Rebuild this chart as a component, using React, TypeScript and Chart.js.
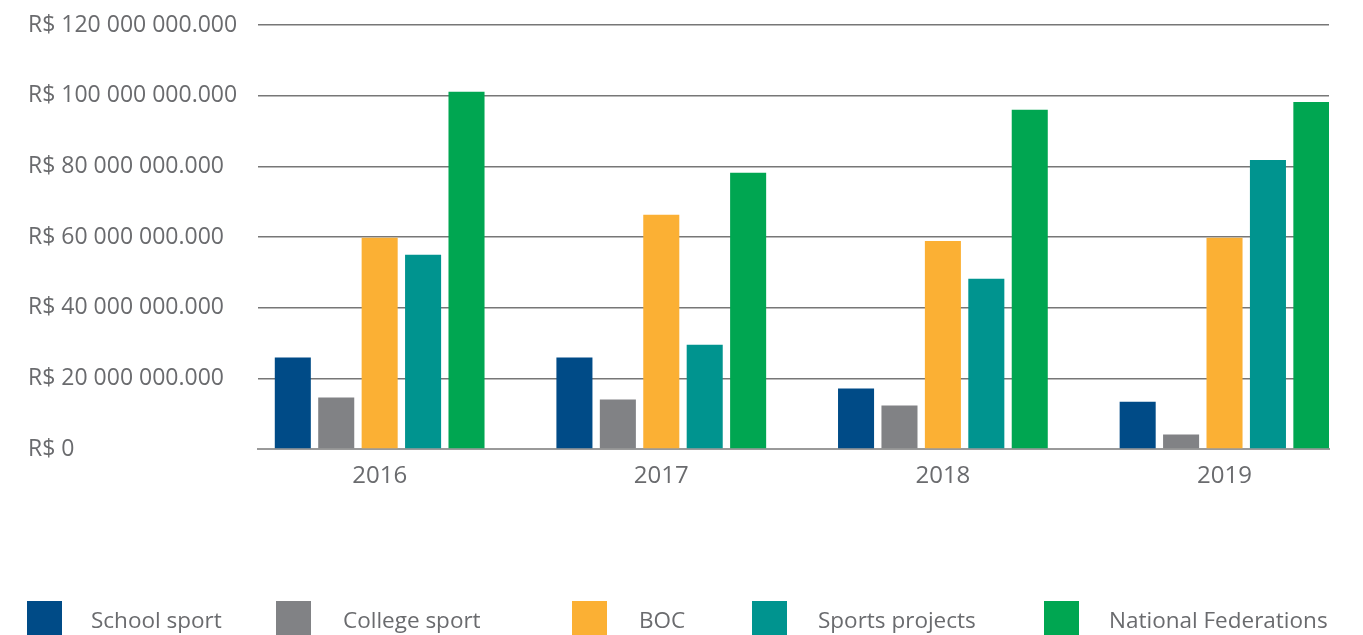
import React, { useEffect, useRef } from 'react';
import { Chart, registerables } from 'chart.js';

Chart.register(...registerables);

const years = ['2016', '2017', '2018', '2019'];
const schoolSport = [25.9e6, 25.9e6, 17.1e6, 13.4e6];
const collegeSport = [14.6e6, 14.0e6, 12.3e6, 4.1e6];
const boc = [59.8e6, 66.3e6, 58.9e6, 59.8e6];
const sportsProjects = [55.0e6, 29.5e6, 48.2e6, 81.8e6];
const nationalFederations = [101.1e6, 78.2e6, 96.0e6, 98.2e6];

const seriesNames = ['School sport', 'College sport', 'BOC', 'Sports projects', 'National Federations'];
const seriesColors = ['#004b87', '#818285', '#fbb034', '#00948f', '#00a651'];

const yTickValues = [0, 20e6, 40e6, 60e6, 80e6, 100e6, 120e6];
const yTickLabels = [
  'R$ 0',
  'R$ 20 000 000.000',
  'R$ 40 000 000.000',
  'R$ 60 000 000.000',
  'R$ 80 000 000.000',
  'R$ 100 000 000.000',
  'R$ 120 000 000.000',
];

const FONT = "'Open Sans', 'Noto Sans', sans-serif";
const TEXT_COLOR = '#6a6b6e';

const legendPlugin = {
  id: 'customLegend',
  afterDraw(chart: any) {
    const ctx = chart.ctx;
    const squareX = [27, 276, 572, 752, 1044];
    const textX = [91, 343, 639, 818, 1109];
    ctx.save();
    ctx.font = `22.5px ${FONT}`;
    ctx.textBaseline = 'middle';
    ctx.textAlign = 'left';
    chart.data.datasets.forEach((ds: any, i: number) => {
      ctx.fillStyle = ds.backgroundColor;
      ctx.fillRect(squareX[i], 601, 35, 40);
      ctx.fillStyle = TEXT_COLOR;
      ctx.fillText(ds.label, textX[i], 622);
    });
    ctx.restore();
  },
};

const allSeries = [schoolSport, collegeSport, boc, sportsProjects, nationalFederations];

export default function App() {
  const ref = useRef<HTMLCanvasElement | null>(null);

  useEffect(() => {
    if (!ref.current) return;
    const chart = new Chart(ref.current, {
      type: 'bar',
      data: {
        datasets: allSeries.map((values, s) => ({
          label: seriesNames[s],
          backgroundColor: seriesColors[s],
          borderWidth: 0,
          data: years.map((_, i) => ({ x: i, y: values[i] })),
        })),
      },
      options: {
        animation: false,
        responsive: false,
        layout: { padding: { left: 28, right: 34, top: 25, bottom: 126 } },
        datasets: { bar: { categoryPercentage: 0.771, barPercentage: 0.83 } } as any,
        plugins: {
          legend: { display: false },
          tooltip: { enabled: false },
        },
        scales: {
          x: {
            type: 'linear',
            min: -0.432,
            max: 3.371,
            offset: false,
            grid: { display: false, drawTicks: false },
            border: { display: true, color: '#9a9a9a', width: 2 },
            ticks: {
              stepSize: 1,
              includeBounds: false,
              autoSkip: false,
              maxRotation: 0,
              padding: 13,
              color: TEXT_COLOR,
              font: { family: FONT, size: 24 },
              callback: (v: any) => years[v] ?? '',
            },
            afterFit: (s: any) => {
              s.height = 60;
            },
          },
          y: {
            min: 0,
            max: 120e6,
            grid: { color: '#777777', lineWidth: 1.4, drawTicks: false },
            border: { display: false },
            ticks: {
              stepSize: 20e6,
              crossAlign: 'far',
              color: TEXT_COLOR,
              font: { family: FONT, size: 23 },
              callback: (v: any) => {
                const i = yTickValues.indexOf(Number(v));
                return i >= 0 ? yTickLabels[i] : '';
              },
            },
            afterFit: (s: any) => {
              s.width = 230;
            },
          },
        },
      } as any,
      plugins: [legendPlugin],
    });
    return () => chart.destroy();
  }, []);

  return (
    <div style={{ position: 'absolute', left: 0, top: 0, width: 1363, height: 635, background: '#fff' }}>
      <canvas ref={ref} width={1363} height={635} style={{ display: 'block' }} />
    </div>
  );
}
